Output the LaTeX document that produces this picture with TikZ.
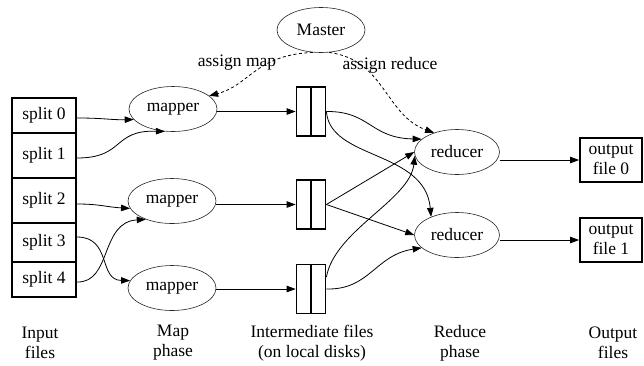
\documentclass[tikz,border=0pt]{standalone}
\usepackage{fontspec}
\setmainfont{Liberation Serif}
\usetikzlibrary{arrows.meta,shapes.geometric}
\begin{document}
\begin{tikzpicture}[x=1pt,y=-1pt,
  every node/.style={font=\fontsize{17.5}{20}\selectfont},
  oval/.style={ellipse, draw=black!85, line width=0.6pt, minimum width=88pt, minimum height=45pt, inner sep=0pt},
  splitbox/.style={rectangle, draw, line width=1.8pt, minimum width=64pt, inner sep=0pt},
  filebox/.style={rectangle, draw, line width=1.8pt, minimum width=29pt, minimum height=49pt, inner sep=0pt},
  outbox/.style={rectangle, draw, line width=1.8pt, minimum width=62pt, minimum height=44pt, inner sep=0pt, align=center},
  flow/.style={line width=0.8pt, -{Triangle[length=9pt,width=6.5pt]}},
  ctrl/.style={flow, dash pattern=on 3pt off 2.5pt},
  phase/.style={align=center}
]
\useasboundingbox (0,0) rectangle (644,365);

% master
\node[oval] (M) at (321,30) {Master};

% input splits
\node[splitbox, minimum height=35pt] (s0) at (44,115.5) {split 0};
\node[splitbox, minimum height=45pt] (s1) at (44,155.5) {split 1};
\node[splitbox, minimum height=45pt] (s2) at (44,200.5) {split 2};
\node[splitbox, minimum height=39pt] (s3) at (44,242.5) {split 3};
\node[splitbox, minimum height=35pt] (s4) at (44,279.5) {split 4};

% mappers
\node[oval] (m1) at (173,109) {mapper};
\node[oval] (m2) at (172,201) {mapper};
\node[oval] (m3) at (172,288) {mapper};

% intermediate files
\node[filebox] (b1) at (311,111.5) {};
\node[filebox] (b2) at (311,204.5) {};
\node[filebox] (b3) at (311,289) {};
\foreach \b in {b1,b2,b3} \draw[line width=1.8pt] (\b.north) -- (\b.south);

% reducers
\node[oval, minimum width=85pt] (r1) at (457,152) {reducer};
\node[oval, minimum width=85pt] (r2) at (457,235) {reducer};

% outputs
\node[outbox] (o0) at (611,160) {output\\file 0};
\node[outbox] (o1) at (611,240) {output\\file 1};

% control edges
\draw[ctrl] (M.250) .. controls (255,55) and (250,85) .. (m1.20);
\draw[ctrl] (M.290) .. controls (385,60) and (385,115) .. (r1.140);
\node (am) at (237,63) {assign map};
\node (ar) at (390,65) {assign reduce};

% splits to mappers
\draw[flow] ([yshift=-2.5pt]s0.east) .. controls (105,118) and (110,120) .. (m1.195);
\draw[flow] ([yshift=-2.5pt]s1.east) .. controls (125,158) and (112,130) .. (m1.250);
\draw[flow] ([yshift=-3.5pt]s2.east) .. controls (100,204) and (106,207) .. (m2.190);
\draw[flow] ([yshift=-2.5pt]s4.east) .. controls (112,283) and (100,222) .. (m2.215);
\draw[flow] ([yshift=5.5pt]s3.east) .. controls (112,237) and (98,280) .. (m3.170);

% mappers to intermediate files
\draw[flow] (m1.east |- b1.west) -- (b1.west);
\draw[flow] (m2.east |- b2.west) -- (b2.west);
\draw[flow] (m3.east |- b3.west) -- (b3.west);

% intermediate files to reducers
\draw[flow] (b1.east) .. controls (370,111) and (370,138) .. (r1.160);
\draw[flow] (b1.east) .. controls (330,160) and (425,150) .. (r2.145);
\draw[flow] (b2.east) -- (r1.west);
\draw[flow] (b2.east) -- (r2.west);
\draw[flow] ([yshift=12pt]b3.east) .. controls (335,230) and (410,200) .. (r1.185);
\draw[flow] (b3.east) .. controls (370,290) and (375,255) .. (r2.200);

% reducers to outputs
\draw[flow] (r1.east |- o0.west) -- (o0.west);
\draw[flow] (r2.east |- o1.west) -- (o1.west);

% phase labels
\node[phase] (l1) at (40,343) {Input\\files};
\node[phase] (l2) at (173,343) {Map\\phase};
\node[phase] (l3) at (312,343) {Intermediate files\\(on local disks)};
\node[phase] (l4) at (460,343) {Reduce\\phase};
\node[phase] (l5) at (613,343) {Output\\files};
\end{tikzpicture}
\end{document}
